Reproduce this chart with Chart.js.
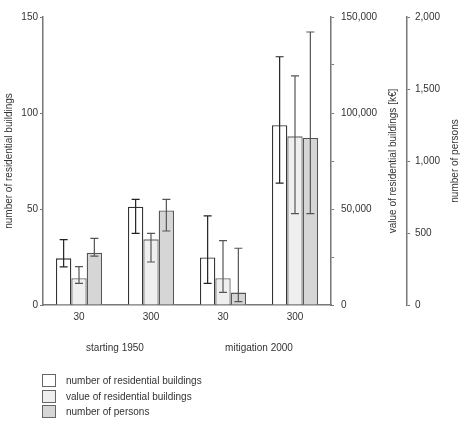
<!DOCTYPE html>
<html>
<head>
<meta charset="utf-8">
<script src="https://cdn.jsdelivr.net/npm/chart.js@4.4.0/dist/chart.umd.min.js"></script>
<style>
    body { margin: 0; background: #fff; font-family: "Liberation Sans", Arial, sans-serif; }
    #wrap { position: relative; width: 465px; height: 424px; }
    #legend { position: absolute; left: 42px; top: 373px; font-size: 10px; color: #333; }
    .item { display: flex; align-items: center; height: 15.5px; }
    .box { width: 14px; height: 13px; border: 1px solid #666; box-sizing: border-box; margin-right: 10px; }
</style>
</head>
<body>
<div id="wrap">
    <canvas id="grafico" width="465" height="424"></canvas>
    <div id="legend"></div>
</div>
<script>
// categorias e valores
const rainLabels = ["30", "300", "30", "300"];
const scenarioLabels = ["starting 1950", "mitigation 2000"];
const seriesNames = ["number of residential buildings", "value of residential buildings", "number of persons"];
const axisTitleTexts = ["number of residential buildings", "value of residential buildings [k\u20ac]", "number of persons"];

const buildings = [24.3, 51.2, 24.8, 93.6];
const buildingsLow = [19.9, 37.3, 11.3, 63.5];
const buildingsHigh = [34.0, 55.0, 46.4, 129.3];

const buildingValue = [13900, 34200, 13900, 87850];
const buildingValueLow = [11300, 22400, 6600, 47600];
const buildingValueHigh = [19950, 37300, 33500, 119300];

const persons = [363, 657, 86, 1160];
const personsLow = [340, 514, 23, 634];
const personsHigh = [463, 734, 394, 1896];

const fillColors = ["#ffffff", "#efefef", "#d6d6d6"];
const borderColors = ["#333333", "#666666", "#555555"];
const errorColors = ["#222222", "#555555", "#555555"];

const textColor = "#333";
const axisColor = "#777";

// barras de erro desenhadas a partir dos arrays low/high
const errorBars = {
    id: "errorBars",
    afterDatasetsDraw(chart) {
        const ctx = chart.ctx;
        chart.data.datasets.forEach((ds, i) => {
            const meta = chart.getDatasetMeta(i);
            const scale = chart.scales[meta.yAxisID];
            ctx.save();
            ctx.strokeStyle = ds.errorColor;
            ctx.lineWidth = 1.2;
            meta.data.forEach((bar, j) => {
                const top = scale.getPixelForValue(ds.errHigh[j]);
                const bot = scale.getPixelForValue(ds.errLow[j]);
                ctx.beginPath();
                ctx.moveTo(bar.x, top); ctx.lineTo(bar.x, bot);
                ctx.moveTo(bar.x - 4, top); ctx.lineTo(bar.x + 4, top);
                ctx.moveTo(bar.x - 4, bot); ctx.lineTo(bar.x + 4, bot);
                ctx.stroke();
            });
            ctx.restore();
        });
    }
};

// títulos dos eixos, todos lidos de baixo para cima
const axisTitles = {
    id: "axisTitles",
    afterDraw(chart) {
        const { ctx, chartArea, scales } = chart;
        const cy = (chartArea.top + chartArea.bottom) / 2;
        const spots = [
            [scales.y.left + 9, axisTitleTexts[0]],
            [scales.y2.right - 14, axisTitleTexts[1]],
            [scales.y3.right - 10, axisTitleTexts[2]]
        ];
        ctx.save();
        ctx.fillStyle = textColor;
        ctx.font = "10px 'Liberation Sans', Arial, sans-serif";
        ctx.textAlign = "center";
        ctx.textBaseline = "middle";
        spots.forEach(([x, text]) => {
            ctx.save();
            ctx.translate(x, cy);
            ctx.rotate(-Math.PI / 2);
            ctx.fillText(text, 0, 0);
            ctx.restore();
        });
        ctx.restore();
    }
};

function yAxis(position, max, step, width, pad, weight, everyLabel) {
    return {
        type: "linear",
        position: position,
        weight: weight,
        min: 0,
        max: max,
        afterFit: scale => { scale.width = width; },
        grid: { drawOnChartArea: false, drawTicks: true, tickLength: 3, color: axisColor },
        border: { display: true, color: axisColor, width: 1.5 },
        ticks: {
            stepSize: step,
            padding: pad,
            color: textColor,
            font: { size: 10 },
            callback: v => (v % everyLabel === 0 ? v.toLocaleString("en-US") : "")
        }
    };
}

Chart.defaults.font.family = "'Liberation Sans', Arial, sans-serif";

const allValues = [buildings, buildingValue, persons];
const allLow = [buildingsLow, buildingValueLow, personsLow];
const allHigh = [buildingsHigh, buildingValueHigh, personsHigh];
const axisIds = ["y", "y2", "y3"];

new Chart(document.getElementById("grafico").getContext("2d"), {
    type: "bar",
    data: {
        labels: rainLabels,
        datasets: seriesNames.map((name, i) => ({
            label: name,
            data: allValues[i],
            errLow: allLow[i],
            errHigh: allHigh[i],
            errorColor: errorColors[i],
            yAxisID: axisIds[i],
            backgroundColor: fillColors[i],
            borderColor: borderColors[i],
            borderWidth: 1.3,
            categoryPercentage: 0.64,
            barPercentage: 1.0
        }))
    },
    options: {
        responsive: false,
        animation: false,
        layout: { padding: { top: 17, bottom: 63, left: 0, right: 0 } },
        plugins: { legend: { display: false }, tooltip: { enabled: false } },
        scales: {
            x: {
                weight: 0,
                afterFit: scale => { scale.height = 32; },
                grid: { display: false, drawTicks: false },
                border: { display: true, color: axisColor, width: 1.5 },
                ticks: { padding: 6, color: textColor, font: { size: 10 } }
            },
            x2: {
                type: "category",
                position: "bottom",
                weight: 1,
                labels: scenarioLabels,
                afterFit: scale => { scale.height = 24; },
                grid: { display: false, drawTicks: false },
                border: { display: false },
                ticks: { padding: 5, color: textColor, font: { size: 10 } }
            },
            y: yAxis("left", 150, 50, 43, 2, 0, 50),
            y2: yAxis("right", 150000, 25000, 76, 7, 0, 50000),
            y3: yAxis("right", 2000, 500, 58, 5, 1, 500)
        }
    },
    plugins: [errorBars, axisTitles]
});

// legenda em HTML, uma linha por série
const legendDiv = document.getElementById("legend");
legendDiv.innerHTML = seriesNames.map((name, i) =>
    `<div class="item"><span class="box" style="background:${fillColors[i]}"></span>${name}</div>`
).join("");
</script>
</body>
</html>
